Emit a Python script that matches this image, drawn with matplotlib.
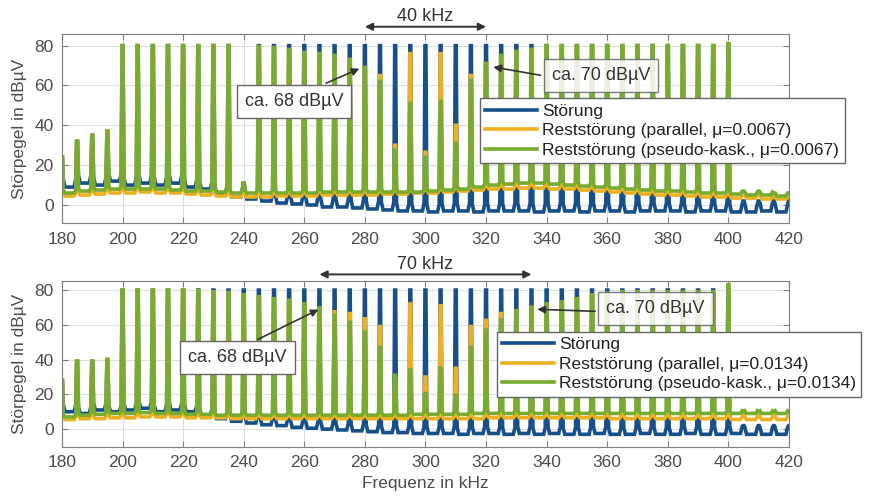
import numpy as np
import matplotlib.pyplot as plt

plt.rcParams['font.family'] = ['Liberation Sans', 'DejaVu Sans']

# harmonics every 5 kHz
freq = np.arange(180, 421, 5)

# --- panel 1 (mu = 0.0067): spike peaks at each harmonic ---
stoer_pk_1 = [24, 32, 35, 37,
              80, 80, 80, 80, 80, 80, 80, 80,
              11,
              80, 80, 80, 80, 80, 80, 80, 80,
              80, 80, 80, 80, 80, 80, 80, 80,
              80, 80, 80, 80, 80, 80, 80, 80,
              80, 80, 80, 80, 80, 80, 80, 80,
              2, 2, 2, 2]
par_pk_1 = [24, 32, 35, 37,
            80, 80, 80, 80, 80, 80, 80, 80,
            11,
            79.5, 79, 78, 76.5, 76, 75, 73, 69,
            65, 30, 76, 26.5, 76, 40, 65, 71,
            75, 77, 78, 80, 80, 80, 80, 80,
            80, 80, 80, 80, 80, 80, 80, 81,
            5, 5, 4, 4]
kask_pk_1 = [24, 32, 35, 37,
             80, 80, 80, 80, 80, 80, 80, 80,
             11,
             79.5, 79, 78, 76.5, 76, 75, 73, 69,
             62, 27.5, 51, 24, 52, 31, 62.5, 71,
             75, 77, 78, 80, 80, 80, 80, 80,
             80, 80, 80, 80, 80, 80, 80, 81,
             7, 7, 6, 6]

# floor between harmonics (182.5 ... 417.5 kHz)
stoer_fl_1 = [9, 11, 10, 12, 10, 11, 10, 11, 9, 8,
              6, 4, 3, 2, 1, 0.5, 0, -1, -1, -1.5,
              -2, -2.5, -3, -3, -3.5, -3, -3, -3.5, -3, -3,
              -3, -3.5, -3, -3, -3.5, -3, -3, -3.5, -3, -3,
              -3, -3.5, -3, -3, -3.5, -3.5, -3, -3.5]
par_fl_1 = [4.5, 5, 5.5, 6, 6, 6.5, 6, 6, 5.5, 5,
            4.5, 4, 4, 4, 4.5, 4.5, 4.5, 5, 5, 5,
            5, 5.5, 5.5, 6, 6, 6.5, 7, 7.5, 8, 8,
            8.5, 8.5, 8, 8, 7.5, 7, 6.5, 6, 5.5, 5,
            5, 4.5, 4, 4, 3.5, 3.5, 3, 3]
kask_fl_1 = [6, 7, 7.5, 8, 8, 8, 8, 7.5, 7, 7,
             6.5, 6, 6, 6, 6, 6, 6, 6.5, 6.5, 6.5,
             6.5, 6.5, 6.5, 6.5, 7, 7.5, 8, 9, 10, 10.5,
             11, 11, 10.5, 10, 9.5, 9, 8.5, 8, 7.5, 7,
             7, 6.5, 6, 6, 5.5, 5, 5, 4.5]

# --- panel 2 (mu = 0.0134) ---
stoer_pk_2 = [28, 39, 39, 40,
              80, 80, 80, 80, 80, 80, 80, 80,
              80,
              80, 80, 80, 80, 80, 80, 80, 80,
              80, 80, 80, 80, 80, 80, 80, 80,
              80, 80, 80, 80, 80, 80, 80, 80,
              80, 80, 80, 80, 80, 80, 80, 80,
              2, 2, 2, 2]
par_pk_2 = [28, 39, 39, 40,
            80, 80, 80, 80, 80, 79.5, 79, 78.5,
            77,
            76, 75, 74, 72, 69.5, 67.5, 66.5, 63.5,
            59, 29, 72, 30, 71, 35, 59, 62.5,
            66.5, 68, 70, 72, 73, 75, 77, 78,
            79, 79, 79, 79, 79, 79, 79, 83,
            8, 8, 8, 8]
kask_pk_2 = [28, 39, 39, 40,
             80, 80, 80, 80, 80, 79.5, 79, 78.5,
             77,
             76, 75, 74, 72, 69.5, 65.5, 61.5, 56,
             47, 31, 34, 20.5, 35, 19.5, 47, 57,
             63, 68, 70, 72, 73, 75, 77, 78,
             79, 79, 79, 79, 79, 79, 79, 83,
             10, 10, 10, 10]

stoer_fl_2 = [10, 9, 11, 10, 11, 12, 10, 11, 10, 8,
              6, 4.5, 3.5, 2.5, 2, 1, 0.5, 0, -0.5, -1,
              -1.5, -2, -2, -2.5, -2.5, -2.5, -3, -2.5, -2.5, -3,
              -2.5, -3, -2.5, -3, -3, -2.5, -3, -3, -2.5, -3,
              -3, -2.5, -3, -3, -2.5, -3, -3, -3]
par_fl_2 = [5.5, 6, 6, 6.5, 6.5, 7, 7, 7, 6.5, 6.5,
            6.5, 6, 6, 6, 6, 6, 6, 6, 6, 6,
            6, 6, 6, 6, 6, 6, 6, 6, 6.5, 6.5,
            6.5, 6.5, 6.5, 6.5, 6.5, 6.5, 6, 6, 6, 6,
            6, 6, 6, 6, 5.5, 5.5, 5.5, 5.5]
kask_fl_2 = [7, 8, 8.5, 9, 9, 9.5, 9, 9, 8.5, 8.5,
             8, 8, 8, 8, 8, 8, 8, 8, 8, 8,
             8, 8, 8, 8.5, 8.5, 8.5, 8.5, 9, 9, 9,
             9, 9, 9, 9, 9, 9, 9, 9, 9, 9,
             9, 9, 9, 9, 9, 9, 9, 9]

c_blue = '#174f8a'
c_yel = '#edb120'
c_grn = '#77ac30'
txt_c = '#333333'


def trace(f, peaks, floors, bump):
    xs, ys = [], []
    n = len(f)
    for i in range(n):
        left = floors[max(i - 1, 0)]
        right = floors[min(i, n - 2)]
        xs += [f[i] - 1.0, f[i] - 0.45, f[i] - 0.15,
               f[i] + 0.15, f[i] + 0.45, f[i] + 1.0]
        ys += [left, left + bump, peaks[i], peaks[i], right + bump, right]
        if i < n - 1:
            xs.append(f[i] + 2.5)
            ys.append(floors[i])
    return xs, ys


def panel(ax, mu, series, ylim):
    labels = ['Störung',
              'Reststörung (parallel, μ=%s)' % mu,
              'Reststörung (pseudo-kask., μ=%s)' % mu]
    cols = [c_blue, c_yel, c_grn]
    bumps = [4, 1.5, 1.5]
    lines = []
    for (pk, fl), c, b, lab in zip(series, cols, bumps, labels):
        x, y = trace(freq, pk, fl, b)
        ln, = ax.plot(x, y, color=c, lw=2.6, label=lab, solid_joinstyle='miter')
        lines.append(ln)
    ax.set_xlim(180, 420)
    ax.set_ylim(*ylim)
    ax.set_xticks(np.arange(180, 421, 20))
    ax.set_yticks([0, 20, 40, 60, 80])
    ax.grid(True, color='#dedede', lw=0.8)
    ax.set_axisbelow(True)
    ax.tick_params(direction='in', top=True, right=True, length=4,
                   color='#7f7f7f', labelcolor='#4d4d4d', labelsize=12.5, pad=6)
    for s in ax.spines.values():
        s.set_color('#7f7f7f')
    ax.set_ylabel('Störpegel in dBµV', fontsize=12.5, color='#4d4d4d', labelpad=5)
    return lines


fig = plt.figure(figsize=(8.69, 4.98), dpi=100)
ax1 = fig.add_axes([0.0713, 0.5516, 0.8366, 0.3795])
ax2 = fig.add_axes([0.0713, 0.1024, 0.8366, 0.3333])

l1 = panel(ax1, '0.0067', [(stoer_pk_1, stoer_fl_1), (par_pk_1, par_fl_1),
                           (kask_pk_1, kask_fl_1)], (-9.2, 85.7))
l2 = panel(ax2, '0.0134', [(stoer_pk_2, stoer_fl_2), (par_pk_2, par_fl_2),
                           (kask_pk_2, kask_fl_2)], (-10.3, 85.2))
ax2.set_xlabel('Frequenz in kHz', fontsize=12.5, color='#4d4d4d', labelpad=4)

box_solid = dict(boxstyle='square,pad=0.45', fc='white', ec='#666666', lw=1)
box_soft = dict(boxstyle='square,pad=0.45', fc='white', ec='#666666', lw=1, alpha=0.85)
dbl = dict(arrowstyle='<|-|>', color=txt_c, lw=1.4, mutation_scale=11,
           shrinkA=0, shrinkB=0)


def arr(rel):
    return dict(arrowstyle='-|>', color=txt_c, lw=1.2, mutation_scale=11,
                relpos=rel)


# top panel annotations
ax1.annotate('', xy=(280, 89.5), xytext=(320, 89.5), arrowprops=dbl,
             annotation_clip=False)
ax1.text(300, 94.5, '40 kHz', ha='center', va='center', fontsize=13, color=txt_c)
ax1.annotate('ca. 68 dBµV', xy=(279, 69), xytext=(256.6, 52), ha='center',
             va='center', fontsize=13, color=txt_c, bbox=box_solid,
             arrowprops=arr((0.6, 1.0)), zorder=5)
ax1.annotate('ca. 70 dBµV', xy=(321.5, 69.5), xytext=(358, 65), ha='center',
             va='center', fontsize=13, color=txt_c, bbox=box_soft,
             arrowprops=arr((0.0, 0.4)), zorder=5)

# bottom panel annotations
ax2.annotate('', xy=(265, 89), xytext=(335, 89), arrowprops=dbl,
             annotation_clip=False)
ax2.text(300, 94.5, '70 kHz', ha='center', va='center', fontsize=13, color=txt_c)
ax2.annotate('ca. 68 dBµV', xy=(265.5, 69.5), xytext=(238, 41), ha='center',
             va='center', fontsize=13, color=txt_c, bbox=box_solid,
             arrowprops=arr((0.5, 1.0)), zorder=5)
ax2.annotate('ca. 70 dBµV', xy=(336, 69), xytext=(376, 69.5), ha='center',
             va='center', fontsize=13, color=txt_c, bbox=box_soft,
             arrowprops=arr((0.0, 0.3)), zorder=5)

for ax, lines, anchor in [(ax1, l1, (0.575, 0.661)), (ax2, l2, (0.598, 0.693))]:
    leg = ax.legend(handles=lines, loc='upper left', bbox_to_anchor=anchor,
                    borderaxespad=0, fancybox=False, framealpha=1,
                    edgecolor='#666666', fontsize=12.5, handlelength=3.0,
                    handletextpad=0.3, labelspacing=0.25, borderpad=0.3)
    leg.set_zorder(10)
    for t in leg.get_texts():
        t.set_color('#222222')

fig.savefig('out.png', dpi=100)
